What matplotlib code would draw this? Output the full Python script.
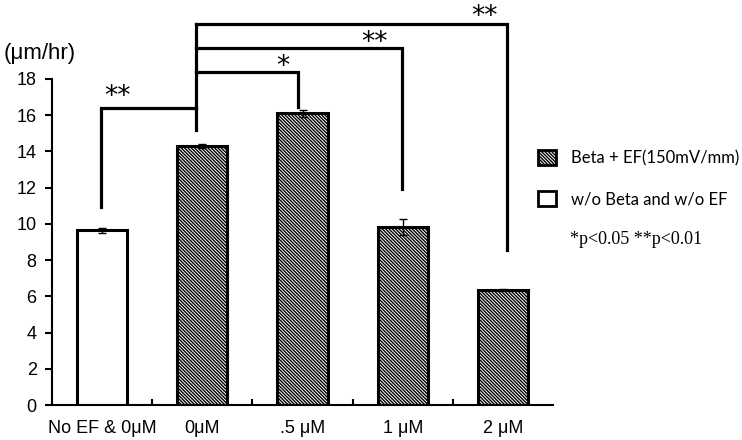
import matplotlib.pyplot as plt
import numpy as np

plt.rcParams['font.family'] = ['Liberation Sans', 'DejaVu Sans']
plt.rcParams['hatch.linewidth'] = 1.0

categories = ['No EF & 0μM', '0μM', '.5 μM', '1 μM', '2 μM']
speeds = [9.65, 14.3, 16.1, 9.83, 6.35]
errors = [0.15, 0.12, 0.2, 0.45, 0.08]

# significance brackets: (right x, top y, right leg end y, label, label x, label y)
hub_x = 0.94
hub_bottom = 15.2
left_bracket = (-0.01, 16.4, 10.95, '**', 0.15, 17.0)
right_brackets = [
    (1.96, 18.4, 16.46, '*', 1.80, 18.65),
    (2.99, 19.7, 11.9, '**', 2.72, 20.0),
    (4.04, 21.05, 8.56, '**', 3.82, 21.45),
]


def main():
    fig = plt.figure(figsize=(7.42, 4.40), dpi=100)
    ax = fig.add_axes([52 / 742, 1 - 405 / 440, 501 / 742, 326 / 440])

    x = np.arange(len(categories))
    bars = ax.bar(x, speeds, width=0.5, color='white', edgecolor='black',
                  linewidth=2.2, zorder=2)
    for b in bars[1:]:
        b.set_hatch('\\' * 10)
    ax.errorbar(x, speeds, yerr=errors, fmt='none', ecolor='black',
                elinewidth=1, capsize=3, capthick=1, zorder=3)

    ax.set_xlim(-0.5, len(categories) - 0.5)
    ax.set_ylim(0, 18)
    ax.set_yticks(np.arange(0, 19, 2))
    ax.set_xticks(x)
    ax.set_xticklabels(categories)
    ax.set_xticks(np.arange(0.5, len(categories) - 1, 1), minor=True)
    ax.tick_params(axis='x', which='major', length=0, labelsize=13, pad=11)
    ax.tick_params(axis='x', which='minor', direction='in', length=4, width=1.5)
    ax.tick_params(axis='y', direction='out', length=5, width=1.5, labelsize=13, pad=6)
    for s in ['top', 'right']:
        ax.spines[s].set_visible(False)
    for s in ['left', 'bottom']:
        ax.spines[s].set_linewidth(1.5)

    lw = 2.3
    top = max(b[1] for b in right_brackets)
    ax.plot([hub_x, hub_x], [hub_bottom, top], color='black', lw=lw, clip_on=False)
    lx, ly, lend, lab, tx, ty = left_bracket
    ax.plot([lx, lx, hub_x], [lend, ly, ly], color='black', lw=lw,
            clip_on=False, solid_joinstyle='miter')
    ax.text(tx, ty, lab, ha='center', va='center', fontsize=19,
            family='DejaVu Sans')
    for rx, ry, rend, lab, tx, ty in right_brackets:
        ax.plot([hub_x, rx, rx], [ry, ry, rend], color='black', lw=lw,
                clip_on=False, solid_joinstyle='miter')
        ax.text(tx, ty, lab, ha='center', va='center', fontsize=19,
                family='DejaVu Sans')

    fig.text(40 / 742, 1 - 54 / 440, '(μm/hr)', ha='center', va='center', fontsize=16)

    leg = ax.legend([bars[1], bars[0]], ['Beta + EF(150mV/mm)', 'w/o Beta and w/o EF'],
                    loc='upper left', bbox_to_anchor=(538 / 742, 1 - 150 / 440),
                    bbox_transform=fig.transFigure, frameon=False,
                    prop={'family': 'Lato', 'size': 12},
                    handlelength=1.05, handleheight=1.05, handletextpad=0.95,
                    labelspacing=1.45, borderpad=0, borderaxespad=0)
    for h in leg.legend_handles:
        h.set_linewidth(2)

    fig.text(570 / 742, 1 - 240 / 440, '*p<0.05 **p<0.01', ha='left', va='center',
             fontsize=13, family='Liberation Serif')

    fig.savefig('out.png', dpi=100)


if __name__ == "__main__":
    main()
